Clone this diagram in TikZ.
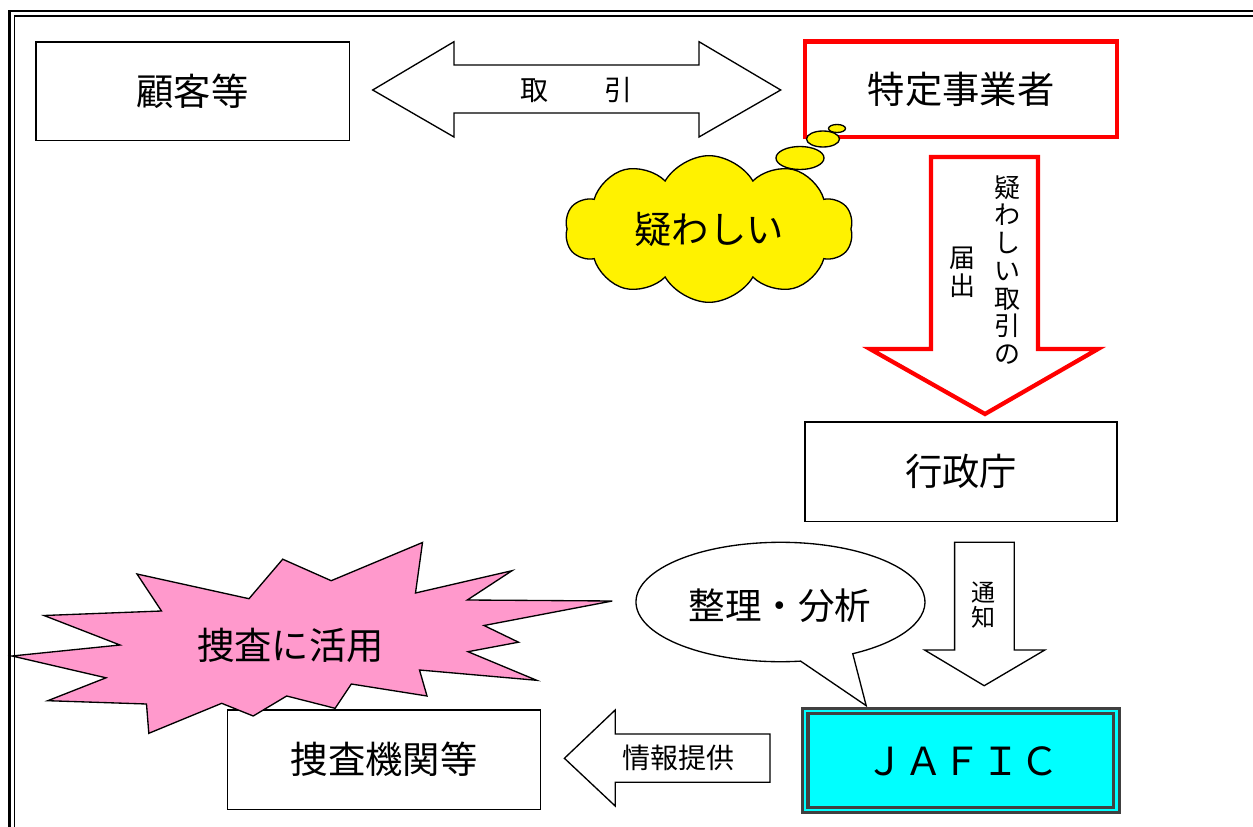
\documentclass[tikz,border=0pt]{standalone}
\usepackage{fontspec}
\setmainfont{Noto Sans CJK JP}
\usetikzlibrary{shapes.symbols}
\definecolor{burstpink}{RGB}{255,153,204}
\definecolor{jafcyan}{RGB}{0,255,255}
\definecolor{jafgray}{RGB}{64,64,64}
\tikzset{
  boxnode/.style={draw=black,line width=1pt,fill=white,inner sep=0pt},
  blockarrow/.style={draw=black,line width=1pt,fill=white,line join=miter},
  bigtext/.style={font=\fontsize{28pt}{32pt}\selectfont},
  midtext/.style={font=\fontsize{21pt}{24pt}\selectfont},
}
\begin{document}
\begin{tikzpicture}[x=0.75pt,y=-0.75pt]
\useasboundingbox (0,0) rectangle (1253,827);
\clip (0,0) rectangle (1253,827);
% frame
\draw[line width=1.8pt] (9.5,11) rectangle (1290,860);
\draw[line width=1pt] (14.5,16) rectangle (1285,855);

% top row
\node[boxnode,bigtext,minimum width=235pt,minimum height=74pt] (kokyaku) at (192.5,91.5) {顧客等};
\node[draw=red,line width=3.4pt,fill=white,bigtext,minimum width=234pt,minimum height=71.5pt] (tokutei) at (961,89.3) {特定事業者};

\draw[blockarrow] (372.7,90) -- (454,41.7) -- (454,65) -- (699,65) -- (699,41.7) -- (780.7,90)
  -- (699,137) -- (699,113) -- (454,113) -- (454,137) -- cycle;
\node[midtext] (torihiki) at (576,90) {取　　引};

% thought cloud
\node[cloud,cloud puffs=10,cloud puff arc=120,cloud ignores aspect,draw=black,line width=1pt,fill=yellow,
  minimum width=216pt,minimum height=110pt,bigtext] (utagai) at (709,229) {疑わしい};
\draw[line width=1pt,fill=yellow] (800,158) ellipse[x radius=24,y radius=11.5];
\draw[line width=1pt,fill=yellow] (823,139) ellipse[x radius=16.5,y radius=8];
\draw[line width=1pt,fill=yellow] (837,128.5) ellipse[x radius=8.5,y radius=4];

% red arrow
\draw[draw=red,line width=3.2pt,fill=white,line join=miter] (931,157) -- (1038,157) -- (1038,349) -- (1098,349)
  -- (985,414) -- (870,349) -- (931,349) -- cycle;
\node[align=center,font=\fontsize{19.5pt}{20.8pt}\selectfont] (todoke1) at (1007,270) {疑\\わ\\し\\い\\取\\引\\の};
\node[align=center,font=\fontsize{19.5pt}{20.8pt}\selectfont] (todoke2) at (962,272) {届\\出};

% gyosei
\node[boxnode,bigtext,minimum width=234pt,minimum height=74.5pt] (gyosei) at (961,471.5) {行政庁};

% tsuchi arrow
\draw[blockarrow] (954.6,542.3) -- (1014.3,542.3) -- (1014.3,650) -- (1044.8,650) -- (984.2,685.7)
  -- (924.6,650) -- (954.6,650) -- cycle;
\node[align=center,font=\fontsize{18pt}{18.8pt}\selectfont] (tsuchi) at (983.5,605) {通\\知};

% speech bubble
\coordinate (bc) at (780.5,602);
\coordinate (btip) at (866.2,705.7);
\draw[line width=1pt,fill=white] ([shift={(82:144.5 and 59.7)}]bc) arc[start angle=82,end angle=420,x radius=144.5,y radius=59.7]
  -- (btip) -- cycle;
\node[font=\fontsize{27.4pt}{30pt}\selectfont] (seiri) at (780,606) {整理・分析};

% JAFIC
\node[draw=jafgray,line width=2.4pt,fill=jafcyan,minimum width=238pt,minimum height=78pt] (jafic) at (961,760.2) {};
\draw[draw=jafgray,line width=2.4pt] (808,713.5) rectangle (1113.8,807.3);
\node[font=\fontsize{29pt}{32pt}\selectfont] (jaftext) at (962,761) {ＪＡＦＩＣ};

% info arrow
\draw[blockarrow] (564.4,758.3) -- (615.2,710) -- (615.2,734) -- (770,734) -- (770,782.3) -- (615.2,782.3)
  -- (615.2,806) -- cycle;
\node[font=\fontsize{21pt}{24pt}\selectfont] (joho) at (678,758) {情報提供};

% sousa kikan
\node[boxnode,bigtext,minimum width=235pt,minimum height=74.5pt] (sousa) at (384,759.7) {捜査機関等};

% burst
\draw[line width=1pt,fill=burstpink,line join=miter] (12,656) -- (120,645) -- (44,615.5) -- (161.5,611) -- (137,574)
  -- (249,598.7) -- (282.7,559.2) -- (331.2,580.7) -- (422.5,542.5) -- (415.5,593) -- (512,570.7)
  -- (467.3,600) -- (612.3,601) -- (484,625.5) -- (518.5,642.2) -- (468,651.7) -- (536.7,680.3)
  -- (419.5,670) -- (427,696) -- (351.3,684) -- (335.1,708.3) -- (286.7,696) -- (253.2,716)
  -- (221.7,703.3) -- (148.8,733.3) -- (146.5,704) -- (47.8,700.7) -- (106,677.8) -- cycle;
\node[bigtext] (katsuyo) at (290.5,645) {捜査に活用};
\end{tikzpicture}
\end{document}
